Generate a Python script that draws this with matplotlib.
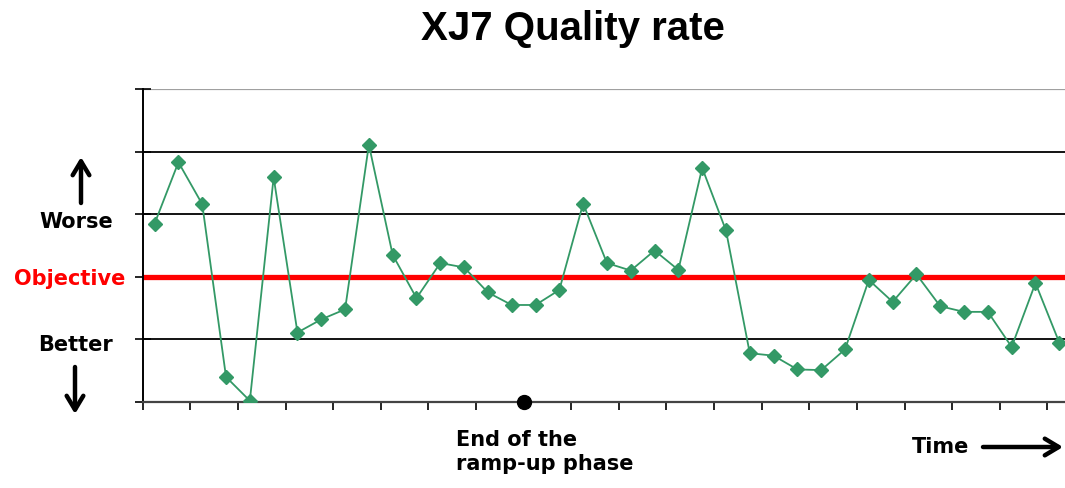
import matplotlib.pyplot as plt
import matplotlib.transforms as mtransforms

# quality rate per period (0 = bottom of the chart, 2 = objective)
periods = list(range(39))
quality = [2.85, 3.83, 3.16, 0.40, 0.02, 3.59, 1.11, 1.32, 1.48, 4.11,
           2.35, 1.66, 2.22, 2.15, 1.75, 1.55, 1.55, 1.79, 3.17, 2.22,
           2.10, 2.42, 2.11, 3.74, 2.74, 0.78, 0.74, 0.52, 0.51, 0.84,
           1.95, 1.60, 2.04, 1.53, 1.44, 1.44, 0.88, 1.90, 0.95]
objective = 2
black_grid = [1, 3, 4]
top_grid = 5
ramp_up_end = 15.5  # boundary between periods 15 and 16

GREEN = "#339966"
RED = "#ff0000"

fig = plt.figure(figsize=(10.65, 4.88), dpi=100)
ax = fig.add_axes([0.134, 0.1762, 0.8718, 0.6414])

for y in black_grid:
    ax.axhline(y, color="black", lw=1.3, zorder=1)
ax.axhline(top_grid, color="#a0a0a0", lw=1.6, zorder=1)
ax.axhline(objective, color=RED, lw=3.8, zorder=2)

ax.plot(periods, quality, color=GREEN, lw=1.3, marker="D", markersize=7.3,
        markerfacecolor=GREEN, markeredgecolor=GREEN, zorder=3)

ax.plot([ramp_up_end], [0], marker="o", color="black", markersize=10,
        clip_on=False, zorder=5)

ax.set_xlim(-0.5, 38.5)
ax.set_ylim(0, 5)
ax.set_xticks([x - 0.5 for x in periods[::2]])
ax.set_yticks(range(0, 6))
ax.set_xticklabels([])
ax.set_yticklabels([])
ax.tick_params(axis="x", direction="out", length=6, width=1.2, color="black")
ax.tick_params(axis="y", direction="inout", length=11, width=1.2, color="black")
for s in ("top", "right"):
    ax.spines[s].set_visible(False)
ax.spines["left"].set_linewidth(1.4)
ax.spines["bottom"].set_linewidth(1.6)
ax.spines["bottom"].set_color("#444444")

fig.text(0.5384, 1 - 40 / 488, "XJ7 Quality rate", ha="center", va="baseline",
         fontsize=29, fontweight="bold", family="Liberation Sans")

# side labels, placed against the y axis
trans = mtransforms.blended_transform_factory(fig.transFigure, ax.transData)
lab = dict(ha="center", va="center", fontsize=15, fontweight="bold", family="DejaVu Sans")
ax.text(76 / 1065, 2.87, "Worse", transform=trans, **lab)
ax.text(70 / 1065, 1.97, "Objective", transform=trans, color=RED, **lab)
ax.text(76 / 1065, 0.91, "Better", transform=trans, **lab)

arrow = dict(arrowstyle="->,head_length=1.0,head_width=0.6", lw=3.2, color="black",
             shrinkA=0, shrinkB=0)
fig.add_artist(plt.Annotation("", xy=(81, 488 - 157), xytext=(81, 488 - 203),
                              xycoords="figure pixels", textcoords="figure pixels",
                              arrowprops=arrow))
fig.add_artist(plt.Annotation("", xy=(75, 488 - 414), xytext=(75, 488 - 367),
                              xycoords="figure pixels", textcoords="figure pixels",
                              arrowprops=arrow))
fig.add_artist(plt.Annotation("", xy=(1063, 488 - 447), xytext=(983, 488 - 447),
                              xycoords="figure pixels", textcoords="figure pixels",
                              arrowprops=arrow))

fig.text(912 / 1065, 1 - 447 / 488, "Time", ha="left", va="center",
         fontsize=15, fontweight="bold", family="DejaVu Sans")
fig.text(456 / 1065, 1 - 430 / 488, "End of the\nramp-up phase", ha="left", va="top",
         fontsize=15, fontweight="bold", family="DejaVu Sans", linespacing=1.25)

fig.savefig("out.png", dpi=100, facecolor="white")
